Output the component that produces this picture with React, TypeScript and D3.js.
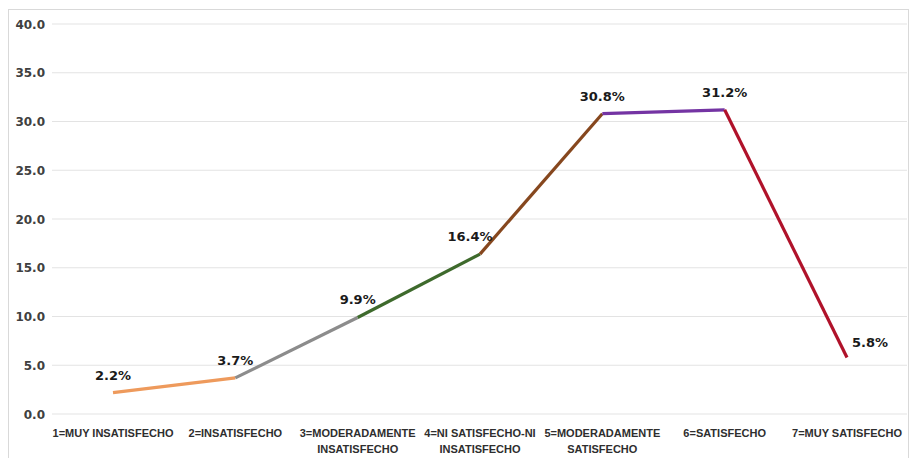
import React from "react";
import * as d3 from "d3";

const categories: string[][] = [
  ["1=MUY INSATISFECHO"],
  ["2=INSATISFECHO"],
  ["3=MODERADAMENTE", "INSATISFECHO"],
  ["4=NI SATISFECHO-NI", "INSATISFECHO"],
  ["5=MODERADAMENTE", "SATISFECHO"],
  ["6=SATISFECHO"],
  ["7=MUY SATISFECHO"],
];
const values: number[] = [2.2, 3.7, 9.9, 16.4, 30.8, 31.2, 5.8];
const segmentColors: string[] = ["#EE9A5C", "#8C8C8C", "#3E6A2C", "#86471E", "#7434A3", "#B0122A"];
const labelSide: string[] = ["above", "above", "above", "aboveLeft", "above", "above", "right"];
const yTicks: number[] = [0, 5, 10, 15, 20, 25, 30, 35, 40];

const W = 910;
const H = 458;

export default function App() {
  const keys = categories.map((c) => c.join(" "));
  const x = d3.scalePoint<string>().domain(keys).range([113, 847]);
  const y = d3.scaleLinear().domain([0, 40]).range([414, 24]);
  const pts = values.map((v, i) => [x(keys[i]) as number, y(v)] as [number, number]);
  const line = d3.line();

  return (
    <svg
      width={W}
      height={H}
      style={{ position: "absolute", left: 0, top: 0, background: "#fff" }}
    >
      <rect x={8.5} y={9.5} width={900} height={460} fill="#fff" stroke="#D9D9D9" strokeWidth={1} />
      {yTicks.map((t) => (
        <g key={t}>
          <line x1={52} x2={907} y1={y(t)} y2={y(t)} stroke="#E3E3E3" strokeWidth={1.2} />
          <text
            x={45}
            y={y(t) + 4.5}
            textAnchor="end"
            fontFamily="DejaVu Sans"
            fontWeight="bold"
            fontSize={12}
            fill="#404040"
          >
            {t.toFixed(1)}
          </text>
        </g>
      ))}
      {pts.slice(0, -1).map((p, i) => (
        <path
          key={i}
          d={line([p, pts[i + 1]]) as string}
          stroke={segmentColors[i]}
          strokeWidth={3.2}
          fill="none"
          strokeLinecap="butt"
        />
      ))}
      {pts.map((p, i) => {
        const side = labelSide[i];
        let lx = p[0];
        let ly = p[1] - 13;
        let anchor: "middle" | "start" = "middle";
        if (side === "aboveLeft") {
          lx = p[0] - 10;
        } else if (side === "right") {
          lx = p[0] + 5;
          ly = p[1] - 10;
          anchor = "start";
        }
        return (
          <text
            key={i}
            x={lx}
            y={ly}
            textAnchor={anchor}
            fontFamily="DejaVu Sans"
            fontWeight="bold"
            fontSize={13}
            fill="#1A1A1A"
          >
            {values[i].toFixed(1) + "%"}
          </text>
        );
      })}
      {categories.map((lines, i) => (
        <text
          key={i}
          x={x(keys[i]) as number}
          y={437}
          textAnchor="middle"
          fontFamily="Liberation Sans"
          fontWeight="bold"
          fontSize={11}
          fill="#2E2E2E"
        >
          {lines.map((l, j) => (
            <tspan key={j} x={x(keys[i]) as number} dy={j === 0 ? 0 : 16}>
              {l}
            </tspan>
          ))}
        </text>
      ))}
    </svg>
  );
}
